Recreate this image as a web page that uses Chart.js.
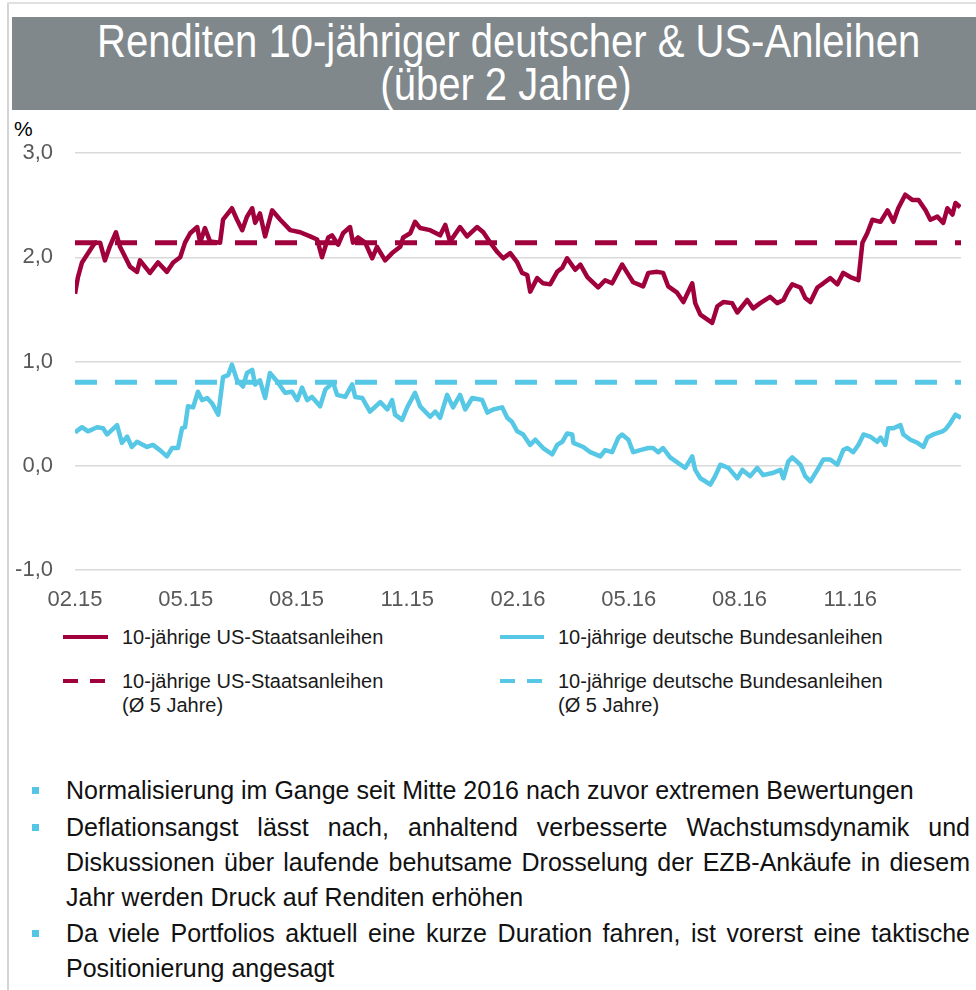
<!DOCTYPE html>
<html>
<head>
<meta charset="utf-8">
<script src="https://cdn.jsdelivr.net/npm/chart.js@4.4.1/dist/chart.umd.min.js"></script>
<style>
  body { margin: 0; background: #fff; font-family: "Liberation Sans", Arial, sans-serif; }
  #page { position: relative; width: 976px; height: 990px; overflow: hidden; }
  .borderLeft { position: absolute; left: 7px; top: 2px; width: 2px; height: 988px; background: #d4d4d4; }
  .borderTop { position: absolute; left: 7px; top: 2px; width: 969px; height: 2px; background: #e0e0e0; }
  #titleBar { position: absolute; left: 12px; top: 17px; width: 964px; height: 93px; background: #80888c; }
  #titleText { position: absolute; left: 36px; width: 940px; top: 20px; text-align: center; color: #fff;
    font-size: 46px; line-height: 43px; transform: scaleX(0.87); transform-origin: 470px 0; white-space: nowrap; }
  #unit { position: absolute; left: 14px; top: 118px; font-size: 21px; line-height: 21px; color: #000; }
  #chartBox { position: absolute; left: 0; top: 115px; width: 976px; height: 500px; }
  .leg { position: absolute; font-size: 20px; line-height: 24px; color: #1a1a1a; }
  .sw { position: absolute; height: 4px; }
  .bullets { position: absolute; left: 66px; width: 904px; font-size: 25px; line-height: 35px; color: #111; }
  .bl { text-align: justify; text-align-last: justify; white-space: nowrap; }
  .bl.last { text-align-last: left; }
  .sq { position: absolute; left: 32px; width: 7px; height: 7px; background: #55c5e5; }
</style>
</head>
<body>
<div id="page">
  <div class="borderLeft"></div>
  <div class="borderTop"></div>
  <div id="titleBar"></div>
  <div id="titleText">Renditen 10-jähriger deutscher &amp; US-Anleihen<br>(über 2 Jahre)</div>
  <div id="unit">%</div>
  <div id="chartBox"><canvas id="myChart"></canvas></div>

  <div class="sw" style="left:63px;top:635px;width:45px;background:#a0003c"></div>
  <div class="leg" style="left:122px;top:625px">10-jährige US-Staatsanleihen</div>
  <div class="sw" style="left:500px;top:635px;width:44px;background:#56c7e5"></div>
  <div class="leg" style="left:558px;top:625px">10-jährige deutsche Bundesanleihen</div>

  <div class="sw" style="left:63px;top:679px;width:15px;background:#a0003c"></div>
  <div class="sw" style="left:90px;top:679px;width:15px;background:#a0003c"></div>
  <div class="leg" style="left:122px;top:669px">10-jährige US-Staatsanleihen<br>(Ø 5 Jahre)</div>
  <div class="sw" style="left:500px;top:679px;width:15px;background:#56c7e5"></div>
  <div class="sw" style="left:527px;top:679px;width:15px;background:#56c7e5"></div>
  <div class="leg" style="left:558px;top:669px">10-jährige deutsche Bundesanleihen<br>(Ø 5 Jahre)</div>

  <div class="sq" style="top:787px"></div>
  <div class="bullets" style="top:773px">
    <div class="bl last">Normalisierung im Gange seit Mitte 2016 nach zuvor extremen Bewertungen</div>
  </div>
  <div class="sq" style="top:824px"></div>
  <div class="bullets" style="top:810px">
    <div class="bl">Deflationsangst lässt nach, anhaltend verbesserte Wachstumsdynamik und</div>
    <div class="bl">Diskussionen über laufende behutsame Drosselung der EZB-Ankäufe in diesem</div>
    <div class="bl last">Jahr werden Druck auf Renditen erhöhen</div>
  </div>
  <div class="sq" style="top:930px"></div>
  <div class="bullets" style="top:916px">
    <div class="bl">Da viele Portfolios aktuell eine kurze Duration fahren, ist vorerst eine taktische</div>
    <div class="bl last">Positionierung angesagt</div>
  </div>
</div>

<script>
// x in months since start of Feb 2015
const xTickPos = [0, 3, 6, 9, 12, 15, 18, 21];
const xTickLabels = ['02.15', '05.15', '08.15', '11.15', '02.16', '05.16', '08.16', '11.16'];

const usMonths = [0.00, 0.08, 0.19, 0.41, 0.54, 0.68, 0.81, 0.95, 1.11, 1.22, 1.49, 1.68, 1.76, 2.03, 2.25, 2.49, 2.66, 2.85, 2.98, 3.12,
  3.31, 3.39, 3.52, 3.66, 3.93, 4.01, 4.25, 4.39, 4.53, 4.66, 4.80, 4.88, 5.01, 5.15, 5.34, 5.56, 5.83, 6.10, 6.37, 6.56,
  6.69, 6.86, 6.96, 7.13, 7.26, 7.45, 7.53, 7.67, 7.86, 8.05, 8.18, 8.40, 8.59, 8.81, 8.89, 9.08, 9.21, 9.35, 9.62, 9.89,
  10.03, 10.16, 10.43, 10.62, 10.89, 11.06, 11.25, 11.44, 11.60, 11.79, 11.98, 12.11, 12.25, 12.33, 12.52, 12.68, 12.87, 13.06, 13.20, 13.33,
  13.55, 13.69, 13.88, 14.17, 14.36, 14.55, 14.82, 14.96, 15.12, 15.39, 15.53, 15.77, 15.93, 16.07, 16.31, 16.48, 16.72, 16.80, 16.94, 17.26,
  17.40, 17.56, 17.80, 17.94, 18.21, 18.37, 18.56, 18.83, 19.02, 19.19, 19.30, 19.43, 19.65, 19.78, 19.92, 20.11, 20.27, 20.46, 20.65, 20.81,
  21.00, 21.22, 21.33, 21.46, 21.60, 21.82, 22.01, 22.17, 22.30, 22.49, 22.68, 22.85, 23.04, 23.17, 23.36, 23.52, 23.63, 23.77, 23.85, 23.98];
const usYield = [1.65, 1.81, 1.95, 2.07, 2.14, 2.14, 1.97, 2.11, 2.24, 2.10, 1.91, 1.86, 1.97, 1.85, 1.95, 1.86, 1.95, 2.00, 2.14, 2.23,
  2.29, 2.14, 2.28, 2.15, 2.14, 2.36, 2.47, 2.36, 2.26, 2.39, 2.47, 2.33, 2.42, 2.20, 2.45, 2.36, 2.26, 2.24, 2.20, 2.17,
  2.00, 2.19, 2.21, 2.12, 2.23, 2.29, 2.14, 2.19, 2.14, 1.99, 2.10, 1.97, 2.04, 2.10, 2.19, 2.23, 2.34, 2.28, 2.26, 2.21,
  2.31, 2.15, 2.29, 2.20, 2.29, 2.24, 2.14, 2.05, 1.99, 2.04, 1.95, 1.85, 1.83, 1.67, 1.80, 1.75, 1.74, 1.86, 1.90, 1.99,
  1.88, 1.93, 1.81, 1.71, 1.78, 1.75, 1.93, 1.85, 1.76, 1.72, 1.85, 1.86, 1.85, 1.72, 1.66, 1.57, 1.75, 1.56, 1.45, 1.37,
  1.53, 1.57, 1.56, 1.47, 1.59, 1.51, 1.56, 1.62, 1.56, 1.59, 1.67, 1.74, 1.71, 1.61, 1.57, 1.71, 1.75, 1.80, 1.74, 1.85,
  1.81, 1.78, 2.14, 2.23, 2.36, 2.34, 2.45, 2.34, 2.47, 2.60, 2.55, 2.55, 2.45, 2.36, 2.39, 2.33, 2.47, 2.41, 2.52, 2.48];

const deMonths = [0.00, 0.19, 0.35, 0.60, 0.76, 0.87, 1.14, 1.27, 1.41, 1.54, 1.68, 1.95, 2.11, 2.30, 2.49, 2.63, 2.79, 2.90, 2.98, 3.06,
  3.20, 3.33, 3.44, 3.58, 3.71, 3.88, 4.01, 4.15, 4.25, 4.39, 4.55, 4.66, 4.80, 4.88, 5.01, 5.15, 5.28, 5.47, 5.69, 5.88,
  6.02, 6.15, 6.29, 6.42, 6.64, 6.78, 6.99, 7.10, 7.32, 7.51, 7.59, 7.78, 7.99, 8.27, 8.46, 8.59, 8.67, 8.86, 9.00, 9.21,
  9.35, 9.62, 9.76, 9.89, 10.08, 10.24, 10.43, 10.57, 10.76, 11.03, 11.17, 11.33, 11.57, 11.71, 11.84, 11.98, 12.14, 12.33, 12.47, 12.68,
  12.93, 13.06, 13.20, 13.33, 13.47, 13.50, 13.77, 13.96, 14.23, 14.36, 14.55, 14.72, 14.82, 14.99, 15.12, 15.31, 15.53, 15.66, 15.80, 15.93,
  16.12, 16.40, 16.53, 16.72, 16.80, 16.94, 17.21, 17.34, 17.48, 17.70, 17.94, 18.08, 18.29, 18.48, 18.64, 18.89, 19.11, 19.19, 19.32, 19.43,
  19.65, 19.78, 19.92, 20.11, 20.27, 20.46, 20.65, 20.81, 20.92, 21.08, 21.22, 21.36, 21.54, 21.73, 21.82, 21.95, 22.03, 22.17, 22.36, 22.44,
  22.63, 22.82, 22.98, 23.09, 23.25, 23.50, 23.58, 23.71, 23.85, 24.00];
const deYield = [0.32, 0.37, 0.33, 0.37, 0.36, 0.30, 0.39, 0.22, 0.28, 0.18, 0.23, 0.18, 0.20, 0.15, 0.09, 0.17, 0.17, 0.36, 0.37, 0.57,
  0.56, 0.71, 0.63, 0.65, 0.60, 0.49, 0.85, 0.87, 0.97, 0.82, 0.76, 0.89, 0.92, 0.78, 0.82, 0.65, 0.89, 0.81, 0.70, 0.71,
  0.63, 0.75, 0.63, 0.66, 0.57, 0.73, 0.80, 0.68, 0.66, 0.78, 0.66, 0.65, 0.52, 0.61, 0.54, 0.63, 0.49, 0.44, 0.56, 0.70,
  0.57, 0.47, 0.52, 0.46, 0.68, 0.56, 0.68, 0.54, 0.65, 0.63, 0.51, 0.54, 0.56, 0.46, 0.42, 0.33, 0.30, 0.20, 0.25, 0.17,
  0.11, 0.20, 0.23, 0.31, 0.30, 0.22, 0.18, 0.13, 0.09, 0.15, 0.13, 0.27, 0.30, 0.25, 0.13, 0.15, 0.17, 0.17, 0.13, 0.17,
  0.08, 0.01, -0.02, 0.09, -0.04, -0.12, -0.18, -0.10, 0.01, -0.02, -0.12, -0.04, -0.10, -0.02, -0.09, -0.07, -0.04, -0.12, 0.04, 0.08,
  0.01, -0.10, -0.15, -0.04, 0.06, 0.06, 0.01, 0.15, 0.17, 0.13, 0.20, 0.30, 0.28, 0.23, 0.27, 0.20, 0.36, 0.36, 0.39, 0.30,
  0.25, 0.22, 0.18, 0.27, 0.30, 0.33, 0.35, 0.41, 0.49, 0.46];

// 5-year averages
const usAvg5y = 2.14;
const deAvg5y = 0.80;
const xRange = [0, 24];

const US_RED = '#a0003c';
const DE_BLUE = '#56c7e5';

function pairs(xs, ys) {
  return xs.map((x, i) => ({ x: x, y: ys[i] }));
}

function initChart(canvas) {
  const flat = (v) => xRange.map(x => ({ x: x, y: v }));

  const data = {
    datasets: [
      { label: '10-jährige US-Staatsanleihen', data: pairs(usMonths, usYield), borderColor: US_RED, borderWidth: 4.5, order: 0 },
      { label: '10-jährige deutsche Bundesanleihen', data: pairs(deMonths, deYield), borderColor: DE_BLUE, borderWidth: 4.5, order: 0 },
      { label: '10-jährige US-Staatsanleihen (Ø 5 Jahre)', data: flat(usAvg5y), borderColor: US_RED, borderWidth: 5, borderDash: [22, 18], order: 1 },
      { label: '10-jährige deutsche Bundesanleihen (Ø 5 Jahre)', data: flat(deAvg5y), borderColor: DE_BLUE, borderWidth: 5, borderDash: [22, 18], order: 1 }
    ]
  };

  const config = {
    type: 'line',
    data: data,
    options: {
      responsive: true,
      maintainAspectRatio: false,
      animation: false,
      layout: { padding: { top: 38, right: 15, left: 0, bottom: 0 } },
      elements: { point: { radius: 0 }, line: { tension: 0, borderJoinStyle: 'round' } },
      plugins: { legend: { display: false }, tooltip: { enabled: false } },
      scales: {
        x: {
          type: 'linear',
          min: xRange[0],
          max: xRange[1],
          grid: { display: false },
          border: { display: false },
          afterBuildTicks: (axis) => { axis.ticks = xTickPos.map(v => ({ value: v })); },
          afterFit: (scale) => { scale.height = 45; },
          ticks: {
            autoSkip: false,
            maxRotation: 0,
            padding: 9,
            color: '#595959',
            font: { family: '"Liberation Sans", Arial, sans-serif', size: 22 },
            callback: (v, i) => xTickLabels[i]
          }
        },
        y: {
          min: -1,
          max: 3,
          grid: { color: '#d9d9d9', lineWidth: 1.5, drawTicks: false },
          border: { display: false },
          afterFit: (scale) => { scale.width = 75; },
          ticks: {
            stepSize: 1,
            padding: 22,
            color: '#595959',
            font: { family: '"Liberation Sans", Arial, sans-serif', size: 22 },
            callback: (v) => v.toFixed(1).replace('.', ',')
          }
        }
      }
    }
  };

  return new Chart(canvas, config);
}

initChart(document.querySelector('#myChart'));
</script>
</body>
</html>
